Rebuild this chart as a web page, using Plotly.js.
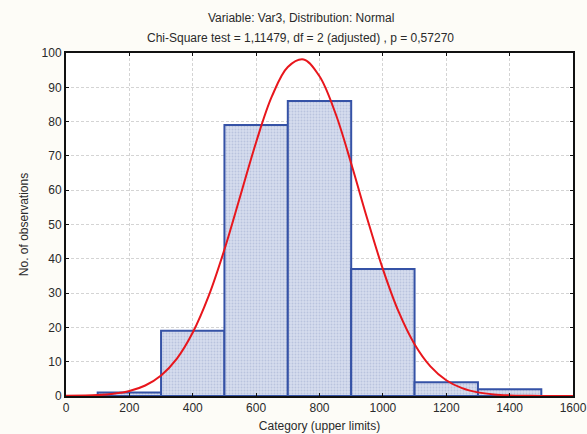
<!DOCTYPE html>
<html><head><meta charset="utf-8">
<script src="https://cdn.plot.ly/plotly-3.0.1.min.js"></script>
<style>html,body{margin:0;padding:0;background:#fdfcf7;}</style>
</head><body>
<div id="chart" style="width:587px;height:434px;"></div>
<script>
// Histogram bins (centers), counts
const binCenters = [200, 400, 600, 800, 1000, 1200, 1400];
const counts = [1, 19, 79, 86, 37, 4, 2];
// Fitted normal curve
const curveX = [0, 100, 150, 200, 250, 300, 350, 400, 450, 500, 550, 600, 650, 700, 750, 800, 850, 900, 950, 1000, 1050, 1100, 1150, 1200, 1250, 1300, 1350, 1400, 1450, 1500, 1600];
const curveY = [0.04, 0.26, 0.64, 1.45, 3.06, 5.98, 10.9, 18.5, 29.1, 42.7, 58.3, 74.0, 87.4, 95.9, 98.1, 93.2, 82.5, 67.8, 51.9, 37.0, 24.5, 15.1, 8.65, 4.6, 2.29, 1.06, 0.45, 0.18, 0.07, 0.02, 0];
const xTicks = [0, 200, 400, 600, 800, 1000, 1200, 1400, 1600];
const yTicks = [0, 10, 20, 30, 40, 50, 60, 70, 80, 90, 100];
const titleLine1 = 'Variable: Var3, Distribution: Normal';
const titleLine2 = 'Chi-Square test = 1,11479, df = 2 (adjusted) , p = 0,57270';

const font = {family: 'Liberation Sans, Arial, sans-serif', size: 12, color: '#2a2a2a'};
const data = [
  {type: 'bar', x: binCenters, y: counts, width: 200,
   marker: {color: '#d3daec', line: {color: '#3552a6', width: 2},
            pattern: {shape: '.', size: 3, solidity: 0.3, fgcolor: '#b9c3de', bgcolor: '#d6ddee'}},
   hoverinfo: 'skip'},
  {type: 'scatter', mode: 'lines', x: curveX, y: curveY,
   line: {color: '#e8161c', width: 2, shape: 'spline'}, hoverinfo: 'skip'}
];
const axisCommon = {showline: true, linecolor: '#111', linewidth: 2, mirror: 'allticks',
  ticks: 'inside', ticklen: 3, tickcolor: '#111', tickwidth: 1,
  showgrid: true, gridcolor: '#d4d4d4', griddash: '3px,2px', gridwidth: 1,
  zeroline: false, tickfont: font};
const layout = {
  width: 587, height: 434,
  margin: {l: 66, r: 14, t: 53, b: 38},
  paper_bgcolor: '#fdfcf7', plot_bgcolor: '#ffffff',
  showlegend: false, font: font, bargap: 0,
  xaxis: Object.assign({}, axisCommon, {range: [0, 1600], tickvals: xTicks,
    title: {text: 'Category (upper limits)', font: font, standoff: 7}}),
  yaxis: Object.assign({}, axisCommon, {range: [0, 100], tickvals: yTicks,
    title: {text: 'No. of observations', font: font, standoff: 10}}),
  annotations: [
    {xref: 'paper', yref: 'paper', x: 0.4635, y: 1.102, text: titleLine1, showarrow: false, xanchor: 'center', yanchor: 'middle', font: font},
    {xref: 'paper', yref: 'paper', x: 0.4635, y: 1.0437, text: titleLine2, showarrow: false, xanchor: 'center', yanchor: 'middle', font: font}
  ]
};
Plotly.newPlot('chart', data, layout, {displayModeBar: false, staticPlot: true});
</script>
</body></html>
